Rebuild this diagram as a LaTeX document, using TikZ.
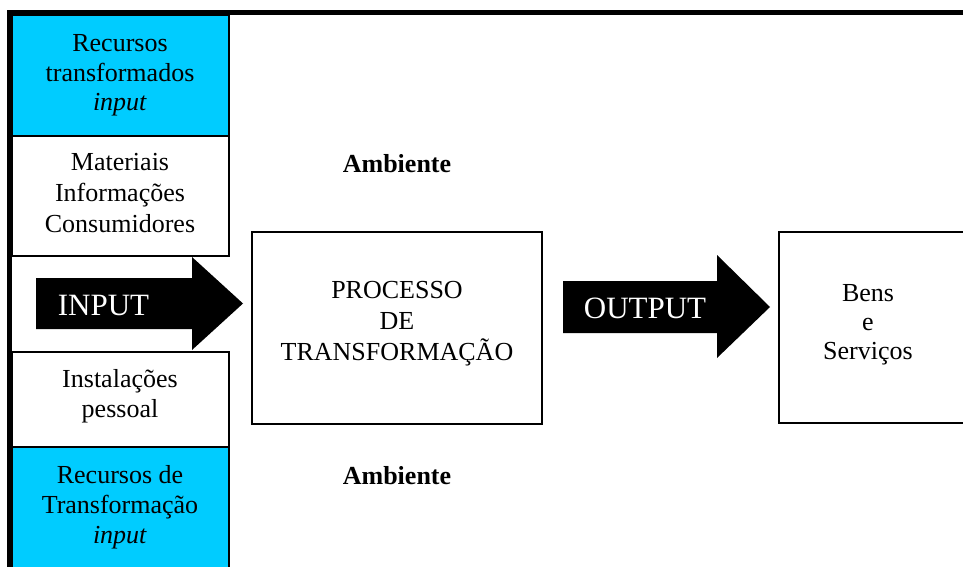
\documentclass[tikz,border=0pt]{standalone}
\usepackage{fontspec}
\setmainfont{Liberation Serif}
\definecolor{cyanbox}{RGB}{0,204,255}
\begin{document}
\begin{tikzpicture}[x=1pt,y=-1pt,
  box/.style={draw=black,line width=1.3pt},
  cbox/.style={box,fill=cyanbox},
  txt/.style={font=\fontsize{26}{30.5}\selectfont,align=center,anchor=base,inner sep=0pt},
  arrowtxt/.style={font=\fontsize{31}{36}\selectfont,text=white,anchor=base,inner sep=0pt},
  blockarrow/.style={fill=black,draw=none}]
\useasboundingbox (0,0) rectangle (963,567);
\fill[white] (0,0) rectangle (963,567);
% left column
\draw[cbox] (12,15) rectangle (229,136);
\draw[box,fill=white] (12,136) rectangle (229,256);
\draw[box,fill=white] (12,352) rectangle (229,447);
\draw[cbox] (12,447) rectangle (229,600);
% main boxes
\node[box,minimum width=290pt,minimum height=192pt,inner sep=0pt] (proc) at (397,328) {};
\draw[box] (779,232) rectangle (1000,423);
\coordinate (bens) at (868,328);
% block arrows
\coordinate (inA) at (36,303.5);
\coordinate (outA) at (563,307);
\fill[blockarrow] (36,278) -- (192,278) -- (192,257) -- (243,303.5) -- (192,350) -- (192,329) -- (36,329) -- cycle;
\fill[blockarrow] (563,281) -- (717,281) -- (717,255) -- (770,307) -- (717,358) -- (717,333) -- (563,333) -- cycle;
% texts (base anchor = baseline of the last line)
\node[txt,font=\fontsize{26}{29.5}\selectfont] (t1) at (120,111) {Recursos\\transformados\\\textit{input}};
\node[txt,font=\fontsize{26}{31}\selectfont] (t2) at (120,232) {Materiais\\Informações\\Consumidores};
\node[txt,font=\fontsize{26}{30}\selectfont] (t3) at (120,417) {Instalações\\pessoal};
\node[txt,font=\fontsize{26}{30}\selectfont] (t4) at (120,543) {Recursos de\\Transformação\\\textit{input}};
\node[txt] (amb1) at (397,172) {\textbf{Ambiente}};
\node[txt] (amb2) at (397,484) {\textbf{Ambiente}};
\node[txt,font=\fontsize{26}{31}\selectfont] (ptxt) at (397,360) {PROCESSO\\DE\\TRANSFORMAÇÃO};
\node[txt,font=\fontsize{26}{29}\selectfont] (btxt) at (868,359) {Bens\\e\\Serviços};
\node[arrowtxt] (input) at (103.5,315) {INPUT};
\node[arrowtxt] (output) at (645,318) {OUTPUT};
% outer frame
\draw[line width=5pt] (9.5,600) -- (9.5,12.5) -- (1000,12.5);
\end{tikzpicture}
\end{document}
